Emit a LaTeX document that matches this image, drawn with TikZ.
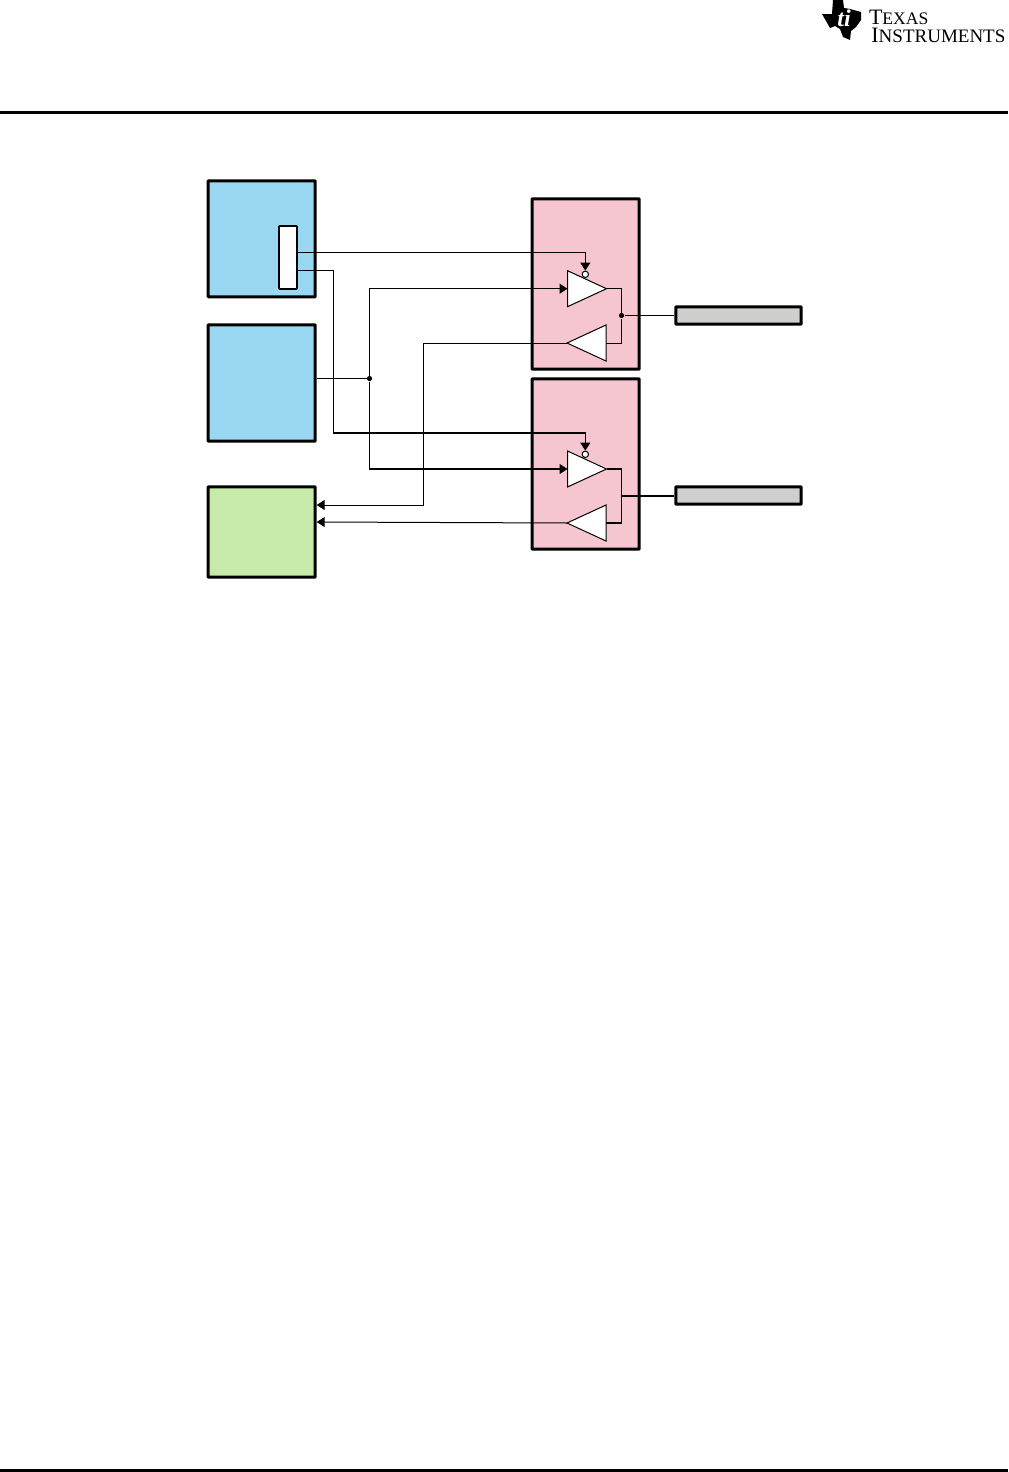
\documentclass[tikz,border=0pt]{standalone}
\usepackage{fontspec}
\setmainfont{Liberation Serif}
\usetikzlibrary{arrows.meta,shapes.geometric}
\definecolor{coreblue}{HTML}{9AD7F2}
\definecolor{padpink}{HTML}{F5C6D0}
\definecolor{hostgreen}{HTML}{C8EAAA}
\definecolor{pingrey}{HTML}{CFCFCD}
\tikzset{
    block/.style={draw, line width=1.5pt, rounded corners=0.3pt, inner sep=0pt, anchor=north west},
    wire/.style={line width=0.5pt},
    heavywire/.style={line width=0.7pt},
    tip/.style={-{Triangle[length=4pt,width=5pt]}},
    driver/.style={draw, line width=0.5pt, fill=white, isosceles triangle, isosceles triangle apex angle=49.5,
        isosceles triangle stretches, minimum width=18pt, minimum height=19.5pt, inner sep=0pt, outer sep=0pt},
    bubble/.style={draw, circle, fill=white, line width=0.5pt, inner sep=0pt, minimum size=3.2pt},
    junction/.style={circle, fill=black, inner sep=0pt, minimum size=2.6pt},
    logotext/.style={anchor=base west, inner sep=0pt, align=left, font=\fontsize{9.5}{9.25}\selectfont}
}
\begin{document}
\begin{tikzpicture}[x=0.5pt, y=-0.5pt]
    \useasboundingbox (0,0) rectangle (1008,1472);

    % Page rules
    \fill (0,111) rectangle (1008,113.5);
    \fill (0,1469) rectangle (1008,1472);

    % Logo
    \fill (822,14) -- (832,14) -- (833,0) -- (843,0) -- (844,8) -- (850,9) -- (861,12) -- (861,20) -- (856,27) -- (851,31) -- (850,40) -- (843,37) -- (840,29) -- (835,26) -- (830,28) -- (826,21) -- cycle;
    \node[white, font=\bfseries\itshape\fontsize{12}{12}\selectfont, inner sep=0pt] (logoti) at (844,18) {ti};
    \node[logotext] (logoname) at (871,42.5) {\hspace*{-1.2pt}{\fontsize{11}{9.25}\selectfont T}{\fontsize{8.8}{9.25}\selectfont EXAS}\\{\fontsize{11}{9.25}\selectfont I}NSTRUMENTS};

    % Blocks on the left
    \node[block, fill=coreblue, minimum width=53.5pt, minimum height=58pt] (coreA) at (206.7,179.3) {};
    \node[block, fill=white, line width=0.8pt, minimum width=9pt, minimum height=31.5pt] (portA) at (278.2,225.2) {};
    \node[block, fill=coreblue, minimum width=53.5pt, minimum height=58.2pt] (coreB) at (206.7,323.3) {};
    \node[block, fill=hostgreen, minimum width=53.5pt, minimum height=45.2pt] (hostC) at (206.7,485.3) {};

    % Blocks on the right
    \node[block, fill=padpink, minimum width=53.5pt, minimum height=85.2pt] (padA) at (530.7,197.3) {};
    \node[block, fill=padpink, minimum width=53.5pt, minimum height=85.2pt] (padB) at (530.7,377.3) {};
    \node[block, fill=pingrey, minimum width=62.7pt, minimum height=8.7pt] (pinA) at (674.3,305.3) {};
    \node[block, fill=pingrey, minimum width=62.7pt, minimum height=8.7pt] (pinB) at (674.3,485.3) {};

    % Buffers
    \node[driver, anchor=lower side] (txA) at (567.5,288.7) {};
    \node[driver, anchor=lower side, shape border rotate=180] (rxA) at (606,343) {};
    \node[driver, anchor=lower side] (txB) at (567.5,469) {};
    \node[driver, anchor=lower side, shape border rotate=180] (rxB) at (606,523) {};
    \node[bubble] (bubbleA) at (585.3,274.3) {};
    \node[bubble] (bubbleB) at (585.3,454.3) {};

    % Junctions
    \node[junction] (dotB) at (369.5,378.5) {};
    \node[junction] (dotA) at (621.5,315.5) {};
    \coordinate (dotC) at (621.5,496);

    % Enable lines
    \draw[wire, tip] (portA.east |- 0,252) -| (bubbleA.north);
    \draw[wire] (portA.east |- 0,270) -- (333,270) -- (333,433);
    \draw[heavywire, tip] (333,433) -| (bubbleB.north);

    % Data lines
    \draw[wire] (coreB.east |- dotB) -- (dotB);
    \draw[wire, tip] (dotB) |- (txA.lower side);
    \draw[wire] (dotB) -- (369.5,433);
    \draw[heavywire, tip] (369.5,433) |- (txB.lower side);

    % Lines back to the host
    \draw[wire, tip] (rxA.apex) -| (423.5,505) -- (hostC.east |- 0,505);
    \draw[wire, tip] (rxB.apex) -- (hostC.east |- 0,522);

    % Pad nets
    \draw[wire] (txA.apex) -| (dotA);
    \draw[wire] (rxA.lower side) -| (dotA);
    \draw[wire] (dotA) -- (pinA.west |- dotA);
    \draw[heavywire] (txB.apex) -| (dotC);
    \draw[heavywire] (rxB.lower side) -| (dotC);
    \draw[heavywire] (dotC) -- (pinB.west |- dotC);
\end{tikzpicture}
\end{document}
